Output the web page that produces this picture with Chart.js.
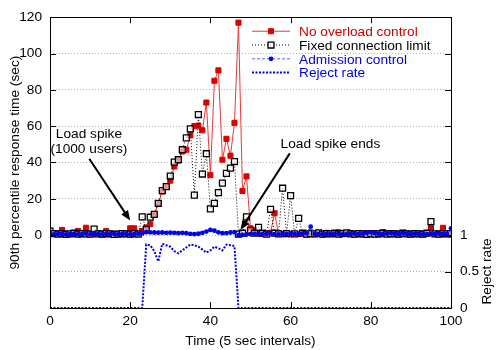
<!DOCTYPE html>
<html>
<head>
<meta charset="utf-8">
<script src="https://cdn.jsdelivr.net/npm/chart.js@4/dist/chart.umd.min.js"></script>
<style>
body { margin: 0; background: #fff; }
</style>
</head>
<body>
<canvas id="chart-area" width="500" height="350"></canvas>
<script>
var time = [0, 1, 2, 3, 4, 5, 6, 7, 8, 9,
    10, 11, 12, 13, 14, 15, 16, 17, 18, 19,
    20, 21, 22, 23, 24, 25, 26, 27, 28, 29,
    30, 31, 32, 33, 34, 35, 36, 37, 38, 39,
    40, 41, 42, 43, 44, 45, 46, 47, 48, 49,
    50, 51, 52, 53, 54, 55, 56, 57, 58, 59,
    60, 61, 62, 63, 64, 65, 66, 67, 68, 69,
    70, 71, 72, 73, 74, 75, 76, 77, 78, 79,
    80, 81, 82, 83, 84, 85, 86, 87, 88, 89,
    90, 91, 92, 93, 94, 95, 96, 97, 98, 99,
    100];

var noOverload = [1.0, 0.5, 0.8, 2.8, 0.4, 0.6, 0.5, 2.2, 0.8, 4.0,
    0.6, 0.4, 0.8, 0.5, 2.2, 0.6, 0.4, 0.7, 0.5, 0.8,
    3.7, 3.7, 0.6, 2.2, 4.2, 6.0, 11.0, 17.5, 24.0, 26.7,
    30.0, 37.8, 41.0, 46.0, 47.0, 55.0, 60.0, 60.3, 57.7, 73.0,
    33.0, 85.0, 90.7, 41.5, 53.0, 43.7, 61.8, 117.0, 24.3, 32.3,
    3.7, 2.5, 1.0, 0.8, 0.5, 1.2, 12.0, 1.0, 0.5, 0.8,
    0.4, 0.6, 0.5, 0.8, 0.3, 1.5, 0.5, 0.8, 0.4, 1.2,
    0.6, 0.5, 1.5, 0.6, 0.8, 1.0, 0.5, 0.6, 0.4, 0.9,
    0.5, 1.0, 0.4, 1.5, 0.6, 0.5, 0.8, 0.4, 1.2, 0.5,
    0.6, 1.0, 0.5, 0.4, 0.8, 4.0, 0.6, 0.8, 4.0, 0.8,
    0.3];

var fixedLimit = [2.2, 0.8, 0.5, 0.8, 0.4, 0.6, 1.0, 0.5, 0.8, 0.6,
    0.5, 3.3, 0.6, 0.5, 0.8, 0.6, 0.4, 0.5, 0.8, 0.6,
    0.5, 0.8, 0.5, 10.0, 3.0, 9.8, 11.4, 17.5, 24.5, 26.7,
    32.5, 40.2, 41.5, 47.0, 53.5, 58.5, 22.0, 66.4, 33.6, 44.8,
    14.4, 17.5, 23.4, 28.6, 34.0, 36.9, 40.5, 0.5, 1.0, 10.0,
    2.5, 1.0, 4.2, 1.0, 0.5, 14.2, 1.0, 0.6, 25.8, 0.8,
    21.7, 0.6, 9.2, 1.0, 0.5, 0.8, 0.6, 1.2, 0.5, 0.8,
    0.6, 1.0, 0.5, 0.8, 1.2, 0.6, 0.5, 0.8, 0.6, 0.4,
    0.8, 0.5, 0.6, 1.0, 0.5, 0.8, 0.6, 0.5, 1.0, 0.6,
    0.5, 0.8, 0.6, 0.5, 1.0, 7.4, 0.6, 0.5, 0.8, 0.6,
    0.8];

var admission = [0.6, 0.4, 0.5, 0.7, 0.3, 0.5, 0.6, 0.4, 0.5, 0.8,
    0.4, 0.6, 0.5, 0.3, 0.6, 0.5, 0.7, 0.4, 0.5, 0.6,
    0.4, 0.5, 0.6, 0.9, 1.6, 1.5, 1.4, 1.3, 1.4, 1.2,
    1.3, 1.2, 1.1, 1.2, 1.0, 0.6, 0.5, 0.7, 1.2, 1.9,
    2.8, 2.4, 1.5, 1.0, 1.1, 1.4, 1.6, 0.0, 0.1, 0.3,
    0.5, 0.6, 0.4, 0.5, 0.7, 0.6, 0.5, 0.4, 0.6, 0.5,
    0.7, 0.5, 0.6, 0.8, 1.0, 4.6, 0.6, 0.5, 0.4, 0.6,
    0.5, 0.7, 0.6, 0.4, 0.5, 0.6, 0.8, 0.5, 0.7, 1.2,
    1.6, 1.0, 0.6, 0.5, 0.8, 1.1, 0.7, 0.5, 1.3, 0.6,
    0.5, 0.7, 0.6, 0.4, 0.5, 0.6, 0.5, 0.7, 0.6, 0.5,
    3.7];

var rejectRate = [0, 0, 0, 0, 0, 0, 0, 0, 0, 0,
    0, 0, 0, 0, 0, 0, 0, 0, 0, 0,
    0, 0, 0, 0, 0.87, 0.86, 0.78, 0.64, 0.88, 0.86,
    0.84, 0.78, 0.75, 0.79, 0.83, 0.87, 0.86, 0.84, 0.80, 0.76,
    0.79, 0.84, 0.82, 0.79, 0.87, 0.86, 0.85, 0, 0, 0,
    0, 0, 0, 0, 0, 0, 0, 0, 0, 0,
    0, 0, 0, 0, 0, 0, 0, 0, 0, 0,
    0, 0, 0, 0, 0, 0, 0, 0, 0, 0,
    0, 0, 0, 0, 0, 0, 0, 0, 0, 0,
    0, 0, 0, 0, 0, 0, 0, 0, 0, 0,
    0];

var xTicks = [0, 20, 40, 60, 80, 100];
var leftTicks = [0, 20, 40, 60, 80, 100, 120];
var rightTicks = [0, 0.5, 1];

var seriesNames = ["No overload control", "Fixed connection limit", "Admission control", "Reject rate"];

var FONT = "'Liberation Sans', Arial, Helvetica, sans-serif";
var FSIZE = 13.7;

function points(ys) {
    return time.map(function(t, i) { return { x: t, y: ys[i] }; });
}

function setTicks(list) {
    return function(scale) {
        scale.ticks = list.map(function(v) { return { value: v }; });
    };
}

function plainLabel(v) { return String(v); }

// gnuplot style frame, inward ticks, key, arrows and labels
var gnuplotBits = {
    id: 'gnuplotBits',
    afterDraw: function(chart) {
        var ctx = chart.ctx;
        var a = chart.chartArea;
        var sx = chart.scales.x, sy = chart.scales.y, sy2 = chart.scales.y1;
        var tl = 6;
        ctx.save();
        ctx.strokeStyle = '#000';
        ctx.lineWidth = 1;
        ctx.setLineDash([]);
        ctx.beginPath();
        xTicks.forEach(function(v) {
            var px = Math.round(sx.getPixelForValue(v)) + 0.5;
            ctx.moveTo(px, a.bottom); ctx.lineTo(px, a.bottom - tl);
            ctx.moveTo(px, a.top); ctx.lineTo(px, a.top + tl);
        });
        leftTicks.forEach(function(v) {
            var py = Math.round(sy.getPixelForValue(v)) + 0.5;
            ctx.moveTo(a.left, py); ctx.lineTo(a.left + tl, py);
            ctx.moveTo(a.right, py); ctx.lineTo(a.right - tl, py);
        });
        rightTicks.forEach(function(v) {
            var py = Math.round(sy2.getPixelForValue(v)) + 0.5;
            ctx.moveTo(a.right, py); ctx.lineTo(a.right - tl, py);
        });
        ctx.stroke();
        ctx.strokeRect(Math.round(a.left) + 0.5, Math.round(a.top) + 0.5,
            Math.round(a.right - a.left), Math.round(a.bottom - a.top));

        // right axis title, reads bottom to top
        ctx.font = FSIZE + 'px ' + FONT;
        ctx.fillStyle = '#000';
        ctx.textAlign = 'center';
        ctx.textBaseline = 'middle';
        ctx.save();
        ctx.translate(487, sy2.getPixelForValue(0.5));
        ctx.rotate(-Math.PI / 2);
        ctx.fillText('Reject rate', 0, 0);
        ctx.restore();

        // key
        var ds = chart.data.datasets;
        var textColors = ['#cc0000', '#000000', '#0000dd', '#0000dd'];
        var x0 = a.right - 199, x1 = a.right - 161, xt = a.right - 152;
        ds.forEach(function(d, i) {
            var y = a.top + 14 + i * 13.8;
            var xm = (x0 + x1) / 2;
            ctx.save();
            ctx.strokeStyle = d.borderColor;
            ctx.lineWidth = d.borderWidth;
            ctx.setLineDash(d.borderDash || []);
            ctx.beginPath();
            ctx.moveTo(x0, y); ctx.lineTo(x1, y);
            ctx.stroke();
            ctx.restore();
            if (d.pointRadius > 0) {
                ctx.save();
                ctx.fillStyle = d.pointBackgroundColor;
                ctx.strokeStyle = d.pointBorderColor;
                ctx.lineWidth = d.pointBorderWidth;
                ctx.setLineDash([]);
                ctx.beginPath();
                if (d.pointStyle === 'rect') {
                    var s = d.pointRadius * Math.SQRT1_2;
                    ctx.rect(xm - s, y - s, 2 * s, 2 * s);
                } else {
                    ctx.arc(xm, y, d.pointRadius, 0, Math.PI * 2);
                }
                ctx.fill();
                if (d.pointBorderWidth > 0) ctx.stroke();
                ctx.restore();
            }
            ctx.fillStyle = textColors[i];
            ctx.textAlign = 'left';
            ctx.textBaseline = 'middle';
            ctx.fillText(d.label, xt, y + 1);
        });

        // annotations
        function arrow(fx, fy, tx, ty) {
            var x1p = sx.getPixelForValue(fx), y1p = sy.getPixelForValue(fy);
            var x2p = sx.getPixelForValue(tx), y2p = sy.getPixelForValue(ty);
            var ang = Math.atan2(y2p - y1p, x2p - x1p);
            var hl = 10, hw = 4;
            ctx.save();
            ctx.strokeStyle = '#000';
            ctx.fillStyle = '#000';
            ctx.lineWidth = 2;
            ctx.beginPath();
            ctx.moveTo(x1p, y1p);
            ctx.lineTo(x2p - hl * 0.8 * Math.cos(ang), y2p - hl * 0.8 * Math.sin(ang));
            ctx.stroke();
            ctx.beginPath();
            ctx.moveTo(x2p, y2p);
            ctx.lineTo(x2p - hl * Math.cos(ang) + hw * Math.sin(ang), y2p - hl * Math.sin(ang) - hw * Math.cos(ang));
            ctx.lineTo(x2p - hl * Math.cos(ang) - hw * Math.sin(ang), y2p - hl * Math.sin(ang) + hw * Math.cos(ang));
            ctx.closePath();
            ctx.fill();
            ctx.restore();
        }
        arrow(9.8, 42, 20, 8);
        arrow(59.8, 45, 47.5, 2.8);

        ctx.fillStyle = '#000';
        ctx.font = FSIZE + 'px ' + FONT;
        ctx.textAlign = 'center';
        ctx.textBaseline = 'middle';
        ctx.fillText('Load spike', sx.getPixelForValue(9.7), sy.getPixelForValue(55.4));
        ctx.fillText('(1000 users)', sx.getPixelForValue(9.7), sy.getPixelForValue(47.3));
        ctx.textAlign = 'left';
        ctx.fillText('Load spike ends', sx.getPixelForValue(57.5), sy.getPixelForValue(50.3));
        ctx.restore();
    }
};

var config = {
    type: 'line',
    data: {
        datasets: [
            {
                label: seriesNames[0],
                data: points(noOverload),
                yAxisID: 'y',
                order: 4,
                borderColor: '#e83a3a',
                borderWidth: 1,
                pointStyle: 'rect',
                pointRadius: 3.6,
                pointBorderWidth: 1,
                pointBackgroundColor: '#dd0000',
                pointBorderColor: '#dd0000'
            },
            {
                label: seriesNames[1],
                data: points(fixedLimit),
                yAxisID: 'y',
                order: 3,
                borderColor: '#000000',
                borderWidth: 1,
                borderDash: [1, 2],
                pointStyle: 'rect',
                pointRadius: 4.2,
                pointBorderWidth: 1.3,
                pointBackgroundColor: 'rgba(255,255,255,0.6)',
                pointBorderColor: '#000000'
            },
            {
                label: seriesNames[2],
                data: points(admission),
                yAxisID: 'y',
                order: 2,
                borderColor: '#5c5cff',
                borderWidth: 1,
                borderDash: [3, 2],
                pointStyle: 'circle',
                pointRadius: 2.4,
                pointBorderWidth: 0,
                pointBackgroundColor: '#0000ee',
                pointBorderColor: '#0000ee'
            },
            {
                label: seriesNames[3],
                data: points(rejectRate),
                yAxisID: 'y1',
                order: 1,
                borderColor: '#0000dd',
                borderWidth: 2,
                borderDash: [2, 1.5],
                pointRadius: 0,
                pointBorderWidth: 0
            }
        ]
    },
    options: {
        responsive: false,
        animation: false,
        devicePixelRatio: 1,
        layout: { padding: { top: 17, left: 0, right: 0, bottom: 0 } },
        plugins: {
            legend: { display: false },
            tooltip: { enabled: false }
        },
        elements: { line: { tension: 0 } },
        scales: {
            x: {
                type: 'linear',
                min: 0,
                max: 100,
                afterBuildTicks: setTicks(xTicks),
                afterFit: function(s) { s.height = 42; },
                grid: { display: false, drawTicks: false },
                border: { display: false },
                ticks: { color: '#000', padding: 5, font: { family: FONT, size: FSIZE }, maxRotation: 0, callback: plainLabel },
                title: {
                    display: true,
                    text: 'Time (5 sec intervals)',
                    color: '#000',
                    font: { family: FONT, size: FSIZE },
                    padding: { top: 0, bottom: 1 }
                }
            },
            y: {
                position: 'left',
                min: -40.2,
                max: 120,
                afterBuildTicks: setTicks(leftTicks),
                afterFit: function(s) { s.width = 50; },
                grid: { color: '#b0b0b0', lineWidth: 1, drawTicks: false },
                border: { display: false, dash: [1, 2] },
                ticks: { color: '#000', padding: 8, font: { family: FONT, size: FSIZE }, callback: plainLabel },
                title: {
                    display: true,
                    text: '90th percentile response time (sec)',
                    color: '#000',
                    font: { family: FONT, size: FSIZE },
                    padding: { top: 7, bottom: 0 }
                }
            },
            y1: {
                position: 'right',
                min: 0,
                max: 3.986,
                afterBuildTicks: setTicks(rightTicks),
                afterFit: function(s) { s.width = 49; },
                grid: {
                    drawTicks: false,
                    color: function(c) { return c.tick && c.tick.value === 0.5 ? '#b0b0b0' : 'rgba(0,0,0,0)'; }
                },
                border: { display: false, dash: [1, 2] },
                ticks: { color: '#000', padding: 9, font: { family: FONT, size: FSIZE }, callback: plainLabel }
            }
        }
    },
    plugins: [gnuplotBits]
};

window.onload = function() {
    var ctx = document.getElementById("chart-area").getContext("2d");
    window.myChart = new Chart(ctx, config);
};
</script>
</body>
</html>
